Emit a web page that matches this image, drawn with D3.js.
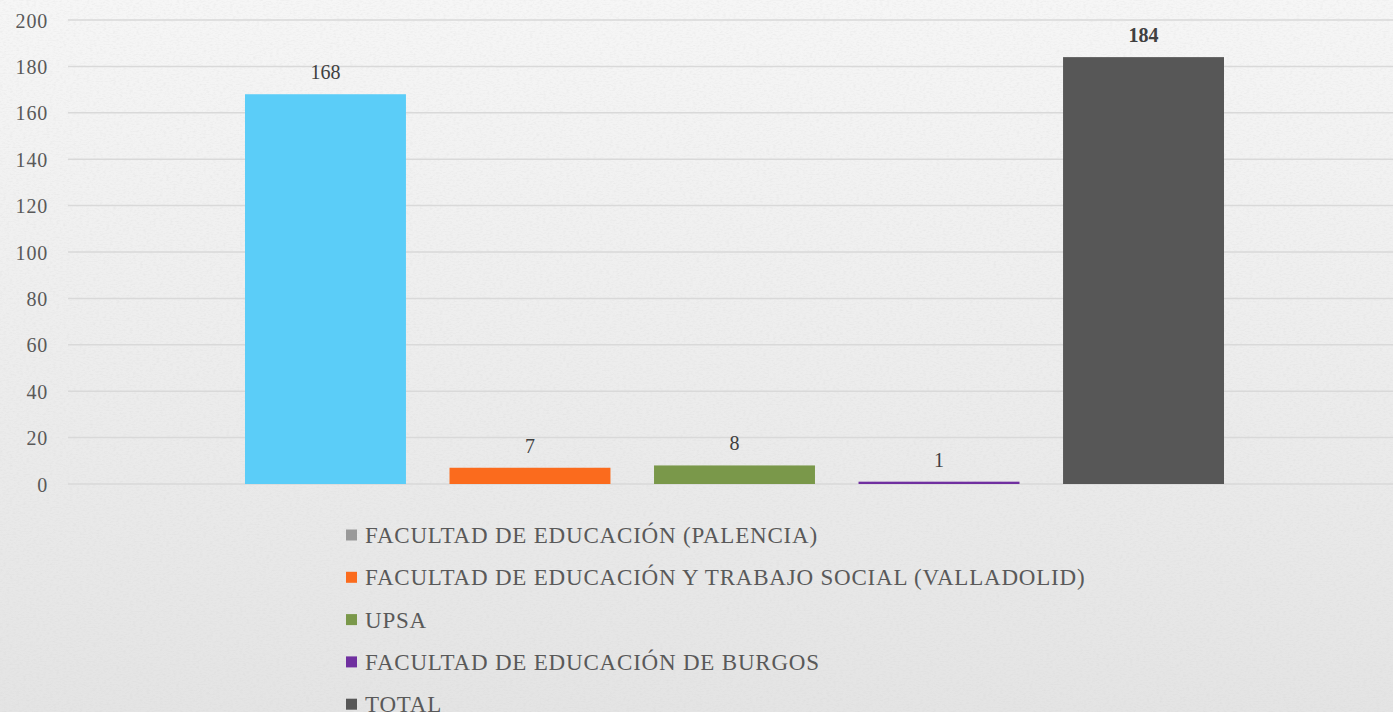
<!DOCTYPE html>
<html>
<head>
<meta charset="utf-8">
<script src="https://cdn.jsdelivr.net/npm/d3@7"></script>
<style>
  html, body { margin: 0; padding: 0; overflow: hidden; }
  svg { display: block; }
  svg text { font-family: "Liberation Serif", Tinos, "Times New Roman", Times, "DejaVu Serif", serif; }
</style>
</head>
<body>
<div id="chart"></div>
<script>
// Chart size.
const width = 1393;
const height = 712;

// Data.
const series = [
  "FACULTAD DE EDUCACIÓN (PALENCIA)",
  "FACULTAD DE EDUCACIÓN Y TRABAJO SOCIAL (VALLADOLID)",
  "UPSA",
  "FACULTAD DE EDUCACIÓN DE BURGOS",
  "TOTAL"
];
const values = [168, 7, 8, 1, 184];
const barColors = ["#5bcdf8", "#fb6b1d", "#7a984a", "#7030a0", "#575757"];
const legendColors = ["#999999", "#fb6b1d", "#7a984a", "#7030a0", "#575757"];
const yTicks = [0, 20, 40, 60, 80, 100, 120, 140, 160, 180, 200];

const svg = d3.select("#chart").append("svg")
  .attr("width", width)
  .attr("height", height);

// Background with a light paper texture
const defs = svg.append("defs");
const grad = defs.append("linearGradient")
  .attr("id", "bg").attr("x1", 0).attr("y1", 0).attr("x2", 0).attr("y2", 1);
grad.append("stop").attr("offset", "0%").attr("stop-color", "#f6f6f6");
grad.append("stop").attr("offset", "100%").attr("stop-color", "#e4e4e4");

const noise = defs.append("filter").attr("id", "noise")
  .attr("x", 0).attr("y", 0).attr("width", "100%").attr("height", "100%");
noise.append("feTurbulence")
  .attr("type", "fractalNoise").attr("baseFrequency", "0.3 0.7")
  .attr("numOctaves", 2).attr("seed", 4);
noise.append("feColorMatrix")
  .attr("type", "matrix")
  .attr("values", "0 0 0 0 0.6  0 0 0 0 0.6  0 0 0 0 0.6  0 0 0 -2.2 1.25");

svg.append("rect").attr("width", width).attr("height", height).attr("fill", "url(#bg)");
svg.append("rect").attr("width", width).attr("height", height)
  .attr("filter", "url(#noise)").attr("opacity", 0.2);

// Scales
const y = d3.scaleLinear().domain([0, 200]).range([484, 20]);
const x = d3.scaleBand().domain(series).range([245, 1224]).paddingInner(0.213).paddingOuter(0);

// Gridlines
svg.append("g")
  .selectAll("line")
  .data(yTicks)
  .enter()
  .append("line")
  .attr("x1", 68)
  .attr("x2", width)
  .attr("y1", d => y(d))
  .attr("y2", d => y(d))
  .attr("stroke", "#d9d9d9")
  .attr("stroke-width", 1.5);

// Y axis
const yAxis = svg.append("g")
  .attr("transform", "translate(48,0)")
  .call(d3.axisLeft(y).tickValues(yTicks).tickSize(0).tickPadding(0));
yAxis.attr("font-family", null);
yAxis.select(".domain").remove();
yAxis.selectAll("text")
  .attr("font-size", 20)
  .attr("letter-spacing", 0.8)
  .attr("fill", "#595959")
  .attr("dy", "0.35em");

// Bars
svg.selectAll("rect.bar")
  .data(values)
  .enter()
  .append("rect")
  .attr("class", "bar")
  .attr("x", (d, i) => x(series[i]))
  .attr("y", d => y(d))
  .attr("width", x.bandwidth())
  .attr("height", d => y(0) - y(d))
  .attr("fill", (d, i) => barColors[i]);

// Value labels
svg.selectAll("text.value")
  .data(values)
  .enter()
  .append("text")
  .attr("class", "value")
  .attr("x", (d, i) => x(series[i]) + x.bandwidth() / 2)
  .attr("y", d => y(d) - 15)
  .attr("text-anchor", "middle")
  .attr("font-size", 20)
  .attr("font-weight", (d, i) => i === series.length - 1 ? "bold" : "normal")
  .attr("fill", "#404040")
  .text(d => d);

// Legend
const legend = svg.append("g")
  .selectAll("g")
  .data(series)
  .enter()
  .append("g")
  .attr("transform", (d, i) => `translate(346,${535 + i * 42.3})`);

legend.append("rect")
  .attr("x", 0)
  .attr("y", -5.5)
  .attr("width", 11)
  .attr("height", 11)
  .attr("fill", (d, i) => legendColors[i]);

legend.append("text")
  .attr("x", 19)
  .attr("y", 0)
  .attr("dy", "0.35em")
  .attr("font-size", 23)
  .attr("letter-spacing", 0.8)
  .attr("fill", "#595959")
  .text(d => d);
</script>
</body>
</html>
